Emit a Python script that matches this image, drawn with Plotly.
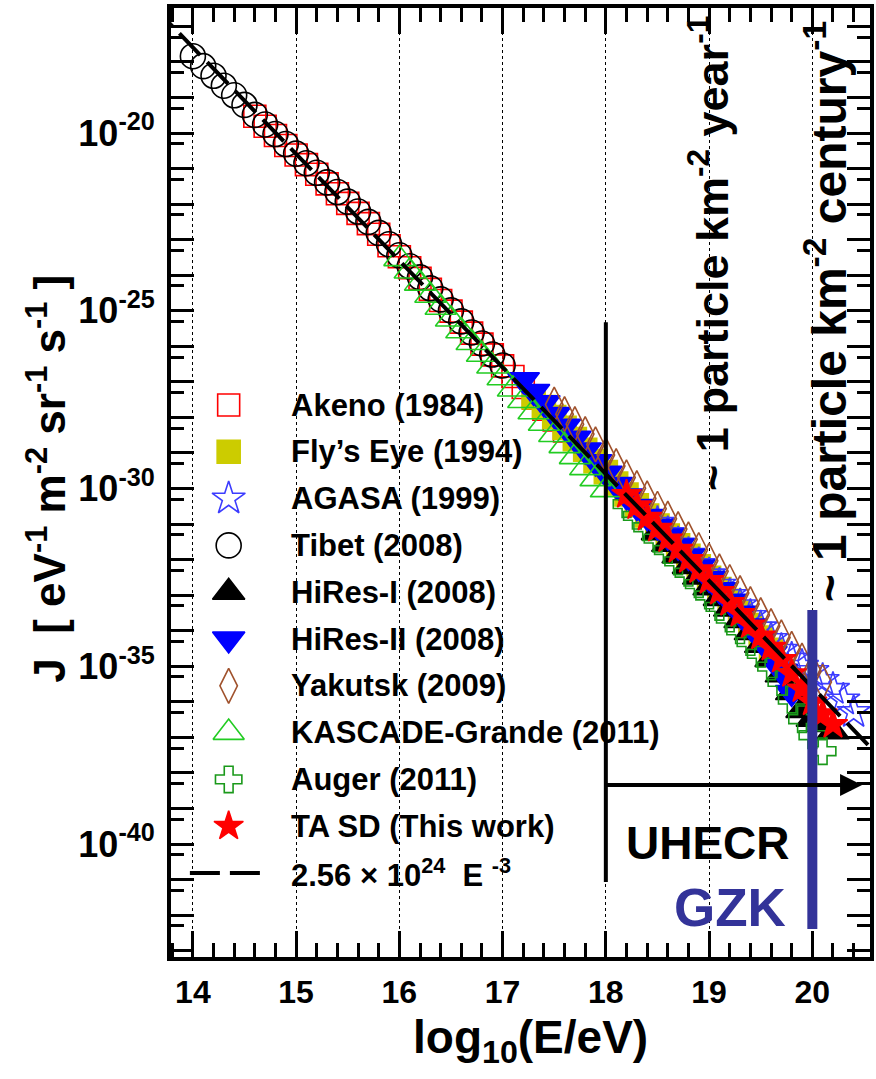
import plotly.graph_objects as go

# ---------------- measured spectra ----------------
# x: log10(E/eV), values: log10(J / eV^-1 m^-2 sr^-1 s^-1)
akeno_x = [14.6, 14.7, 14.8, 14.9, 15.0, 15.1, 15.2, 15.3, 15.4, 15.5, 15.6, 15.7, 15.8, 15.9,
           16.0, 16.1, 16.2, 16.3, 16.4, 16.5, 16.6, 16.7, 16.8, 16.9, 17.0, 17.1, 17.2, 17.3,
           17.4, 17.5, 17.6]
akeno_lj = [-19.53, -19.81, -20.07, -20.35, -20.62, -20.89, -21.16, -21.43, -21.71, -21.98,
            -22.26, -22.55, -22.85, -23.17, -23.48, -23.79, -24.09, -24.40, -24.71, -25.01,
            -25.32, -25.63, -25.94, -26.24, -26.55, -26.85, -27.16, -27.46, -27.77, -28.07, -28.38]

flyseye_x = [17.3, 17.4, 17.5, 17.6, 17.7, 17.8, 17.9, 18.0, 18.1, 18.2, 18.3, 18.4, 18.5, 18.6,
             18.7, 18.8, 18.9, 19.0, 19.1, 19.2, 19.3, 19.4, 19.5, 19.6]
flyseye_lj = [-27.44, -27.71, -27.99, -28.29, -28.61, -28.91, -29.23, -29.54, -29.86, -30.17,
              -30.47, -30.76, -31.04, -31.32, -31.60, -31.89, -32.19, -32.51, -32.83, -33.16,
              -33.49, -33.84, -34.19, -34.54]

agasa_x = [18.5, 18.6, 18.7, 18.8, 18.9, 19.0, 19.1, 19.2, 19.3, 19.4, 19.5, 19.6, 19.7, 19.8,
           19.9, 20.0, 20.1, 20.2, 20.3, 20.4]
agasa_lj = [-30.97, -31.26, -31.55, -31.84, -32.13, -32.42, -32.71, -33.00, -33.29, -33.59,
            -33.91, -34.24, -34.54, -34.79, -34.99, -35.14, -35.39, -35.64, -35.94, -36.29]

tibet_x = [14.0, 14.1, 14.2, 14.3, 14.4, 14.5, 14.6, 14.7, 14.8, 14.9, 15.0, 15.1, 15.2, 15.3,
           15.4, 15.5, 15.6, 15.7, 15.8, 15.9, 16.0, 16.1, 16.2, 16.3, 16.4, 16.5, 16.6, 16.7,
           16.8, 16.9, 17.0]
tibet_lj = [-17.84, -18.12, -18.39, -18.67, -18.94, -19.21, -19.49, -19.76, -20.03, -20.31,
            -20.58, -20.85, -21.12, -21.39, -21.66, -21.93, -22.21, -22.50, -22.81, -23.13,
            -23.44, -23.75, -24.06, -24.37, -24.68, -24.99, -25.30, -25.61, -25.92, -26.23, -26.54]

hires1_x = [18.5, 18.6, 18.7, 18.8, 18.9, 19.0, 19.1, 19.2, 19.3, 19.4, 19.5, 19.6, 19.7, 19.8,
            19.9, 20.0, 20.1, 20.2]
hires1_lj = [-31.24, -31.57, -31.89, -32.19, -32.49, -32.79, -33.09, -33.39, -33.71, -34.05,
             -34.41, -34.81, -35.24, -35.74, -36.24, -36.49, -36.64, -36.84]

hires2_x = [17.2, 17.3, 17.4, 17.5, 17.6, 17.7, 17.8, 17.9, 18.0, 18.1, 18.2, 18.3, 18.4, 18.5,
            18.6, 18.7, 18.8, 18.9, 19.0, 19.1, 19.2, 19.3, 19.4, 19.5, 19.6, 19.7, 19.8]
hires2_lj = [-26.94, -27.27, -27.59, -27.92, -28.25, -28.59, -28.92, -29.25, -29.57, -29.89,
             -30.21, -30.51, -30.79, -31.06, -31.34, -31.62, -31.91, -32.21, -32.53, -32.85,
             -33.17, -33.51, -33.87, -34.24, -34.64, -35.14, -35.74]

yakutsk_x = [17.5, 17.6, 17.7, 17.8, 17.9, 18.0, 18.1, 18.2, 18.3, 18.4, 18.5, 18.6, 18.7, 18.8,
             18.9, 19.0, 19.1, 19.2, 19.3, 19.4, 19.5, 19.6, 19.7, 19.8, 19.9, 20.0, 20.1]
yakutsk_lj = [-27.64, -27.91, -28.19, -28.47, -28.76, -29.06, -29.37, -29.69, -29.99, -30.28,
              -30.57, -30.85, -31.14, -31.43, -31.73, -32.03, -32.33, -32.63, -32.94, -33.25,
              -33.56, -33.87, -34.19, -34.51, -34.84, -35.14, -35.44]

kascade_x = [16.0, 16.1, 16.2, 16.3, 16.4, 16.5, 16.6, 16.7, 16.8, 16.9, 17.0, 17.1, 17.2, 17.3,
             17.4, 17.5, 17.6, 17.7, 17.8, 17.9, 18.0]
kascade_lj = [-23.54, -23.89, -24.23, -24.57, -24.91, -25.24, -25.57, -25.90, -26.23, -26.56,
              -26.89, -27.21, -27.53, -27.85, -28.17, -28.49, -28.80, -29.11, -29.42, -29.73, -30.04]

auger_x = [18.2, 18.3, 18.4, 18.5, 18.6, 18.7, 18.8, 18.9, 19.0, 19.1, 19.2, 19.3, 19.4, 19.5,
           19.6, 19.7, 19.8, 19.9, 20.0, 20.1]
auger_lj = [-30.44, -30.77, -31.09, -31.41, -31.73, -32.05, -32.37, -32.69, -33.01, -33.33,
            -33.66, -33.99, -34.32, -34.65, -35.01, -35.44, -35.94, -36.49, -36.94, -37.39]

tasd_x = [18.2, 18.3, 18.4, 18.5, 18.6, 18.7, 18.8, 18.9, 19.0, 19.1, 19.2, 19.3, 19.4, 19.5,
          19.6, 19.7, 19.8, 19.9, 20.0, 20.1, 20.2]
tasd_lj = [-30.17, -30.49, -30.81, -31.12, -31.42, -31.71, -32.00, -32.29, -32.59, -32.90,
           -33.21, -33.52, -33.84, -34.15, -34.47, -34.81, -35.21, -35.64, -36.01, -36.34, -36.64]

# reference power law J = A * E^-3
fit_norm = 2.56e24
fit_index = -3.0
fit_x = [13.6, 20.7]

series_names = ["Akeno (1984)", "Fly\u2019s Eye (1994)", "AGASA (1999)", "Tibet (2008)",
                "HiRes-I (2008)", "HiRes-II (2008)", "Yakutsk (2009)",
                "KASCADE-Grande (2011)", "Auger (2011)", "TA SD (This work)"]
series_x = [akeno_x, flyseye_x, agasa_x, tibet_x, hires1_x, hires2_x, yakutsk_x,
            kascade_x, auger_x, tasd_x]
series_lj = [akeno_lj, flyseye_lj, agasa_lj, tibet_lj, hires1_lj, hires2_lj, yakutsk_lj,
             kascade_lj, auger_lj, tasd_lj]

# marker style per experiment: (symbol, size, colour)
styles = [
    ("square-open", 22, "#FF0000"),
    ("square", 23, "#CCCC00"),
    ("star-open", 25, "#3C3CFF"),
    ("circle-open", 25, "#000000"),
    ("triangle-up", 28, "#000000"),
    ("triangle-down", 28, "#0000FF"),
    ("diamond-tall-open", 25, "#A0522D"),
    ("triangle-up-open", 27, "#22CC22"),
    ("cross-open", 22, "#1A991A"),
    ("star", 22, "#FF0000"),
]

FONT = "Liberation Sans"
BLUE = "#333399"

# plot-area geometry in page pixels
L, R, T, B = 171, 874, 8, 957
W, H = 876, 1079


def px(xp):
    return (xp - L) / (R - L)


def py(yp):
    return (B - yp) / (B - T)


fig = go.Figure()

for name, xs, ljs, (sym, size, col) in zip(series_names, series_x, series_lj, styles):
    fig.add_trace(go.Scatter(
        x=xs, y=[10.0 ** v for v in ljs], mode="markers", name=name,
        marker=dict(symbol=sym, size=size, color=col, line=dict(width=1.6, color=col)),
        showlegend=False, cliponaxis=True))

# power law
fig.add_trace(go.Scatter(
    x=fit_x, y=[fit_norm * (10.0 ** xv) ** fit_index for xv in fit_x], mode="lines",
    line=dict(color="black", width=4, dash="30px,10px"), showlegend=False))

# UHECR threshold and GZK marker lines
fig.add_trace(go.Scatter(x=[18, 18], y=[10 ** -25.32, 10 ** -41.07], mode="lines",
                         line=dict(color="black", width=4), showlegend=False))
fig.add_trace(go.Scatter(x=[20, 20], y=[10 ** -33.42, 10 ** -42.39], mode="lines",
                         line=dict(color=BLUE, width=10), showlegend=False))

# ---------------- hand-placed legend (pixel overlay axes) ----------------
leg_x_mark, leg_x_text, leg_y0, leg_dy = 229, 290, 405, 46.8
LEG_FONT = dict(family=FONT, size=31, color="black", weight="bold")
for i, (name, (sym, size, col)) in enumerate(zip(series_names, styles)):
    yy = leg_y0 + i * leg_dy
    fig.add_trace(go.Scatter(
        x=[leg_x_mark], y=[yy], xaxis="x2", yaxis="y2", mode="markers",
        marker=dict(symbol=sym, size=size, color=col, line=dict(width=1.6, color=col)),
        showlegend=False, hoverinfo="skip"))
    fig.add_annotation(x=leg_x_text, y=yy, xref="x2", yref="y2", text=name, showarrow=False,
                       xanchor="left", yanchor="middle", font=LEG_FONT)
yy = leg_y0 + len(series_names) * leg_dy
fig.add_trace(go.Scatter(
    x=[190, 264], y=[yy, yy], xaxis="x2", yaxis="y2", mode="lines",
    line=dict(color="black", width=4, dash="30px,10px"), showlegend=False, hoverinfo="skip"))
fig.add_annotation(x=leg_x_text, y=yy, xref="x2", yref="y2",
                   text="2.56 \u00d7 10<sup>24</sup>  E <sup>-3</sup>", showarrow=False,
                   xanchor="left", yanchor="middle", font=LEG_FONT)

# ---------------- labels inside the frame ----------------
fig.add_annotation(x=866, y=785, ax=606, ay=785, xref="x2", yref="y2", axref="x2", ayref="y2",
                   text="", showarrow=True, arrowhead=2, arrowsize=1.1, arrowwidth=4,
                   arrowcolor="black", standoff=0, startstandoff=0)
fig.add_annotation(x=711, y=843, xref="x2", yref="y2", text="UHECR", showarrow=False,
                   font=dict(family=FONT, size=46, color="black", weight="bold"))
fig.add_annotation(x=733, y=907, xref="x2", yref="y2", text="GZK", showarrow=False,
                   font=dict(family=FONT, size=53, color=BLUE, weight="bold"))
fig.add_annotation(x=712, y=253, xref="x2", yref="y2", textangle=-90, showarrow=False,
                   xanchor="center", yanchor="middle",
                   text="~ 1 particle km<sup>-2</sup> year<sup>-1</sup>",
                   font=dict(family=FONT, size=45, color="black", weight="bold"))
fig.add_annotation(x=830, y=312, xref="x2", yref="y2", textangle=-90, showarrow=False,
                   xanchor="center", yanchor="middle",
                   text="~ 1 particle km<sup>-2</sup> century<sup>-1</sup>",
                   font=dict(family=FONT, size=48, color="black", weight="bold"))

# ---------------- axis titles ----------------
fig.add_annotation(x=px(533), y=py(1040), xref="paper", yref="paper", showarrow=False,
                   xanchor="center", yanchor="middle",
                   text="log<sub>10</sub>(E/eV)",
                   font=dict(family=FONT, size=46, color="black", weight="bold"))
fig.add_annotation(x=px(45), y=py(479), xref="paper", yref="paper", showarrow=False,
                   xanchor="center", yanchor="middle", textangle=-90,
                   text="J  [ eV<sup>-1</sup> m<sup>-2</sup> sr<sup>-1</sup> s<sup>-1</sup> ]",
                   font=dict(family=FONT, size=44, color="black", weight="bold"))

# ---------------- axes ----------------
x_ticks = [14, 15, 16, 17, 18, 19, 20]
decades = list(range(-43, -16))
y_tickvals = [10.0 ** n for n in decades]
y_ticktext = [f"10<sup>{n}</sup>" if n % 5 == 0 else "" for n in decades]
y_minor = [5 * 10.0 ** n for n in range(-44, -17)]

x_lo = 14 - (193 - L) / 103.83
x_hi = 20 + (R - 816) / 103.83
y_hi = -20 + (133 - T) / 35.55
y_lo = -20 - (B - 133) / 35.55

fig.update_layout(
    width=W, height=H,
    margin=dict(l=L, r=W - R, t=T, b=H - B),
    paper_bgcolor="white", plot_bgcolor="white",
    showlegend=False,
    font=dict(family=FONT, color="black", weight="bold"),
    xaxis=dict(
        range=[x_lo, x_hi], tickvals=x_ticks, ticktext=[str(v) for v in x_ticks],
        ticks="inside", ticklen=26, tickwidth=3, tickcolor="black",
        tickfont=dict(family=FONT, size=32, color="black", weight="bold"),
        ticklabelstandoff=4,
        showline=True, linewidth=4, linecolor="black", mirror="allticks",
        showgrid=True, gridcolor="black", gridwidth=1, griddash="dot", zeroline=False,
        minor=dict(dtick=0.2, tick0=14, ticks="inside", ticklen=14, tickwidth=3,
                   tickcolor="black", showgrid=False),
    ),
    yaxis=dict(
        type="log", range=[y_lo, y_hi], tickmode="array", tickvals=y_tickvals,
        ticktext=y_ticktext, ticks="inside", ticklen=23, tickwidth=3, tickcolor="black",
        tickfont=dict(family=FONT, size=36, color="black", weight="bold"),
        ticklabelstandoff=5,
        showline=True, linewidth=4, linecolor="black", mirror="allticks",
        showgrid=False, zeroline=False,
        minor=dict(tickmode="array", tickvals=y_minor, ticks="inside", ticklen=13,
                   tickwidth=3, tickcolor="black", showgrid=False),
    ),
    xaxis2=dict(overlaying="x", range=[L, R], visible=False, fixedrange=True),
    yaxis2=dict(overlaying="y", range=[B, T], visible=False, fixedrange=True),
)

fig.write_html("out.html")
